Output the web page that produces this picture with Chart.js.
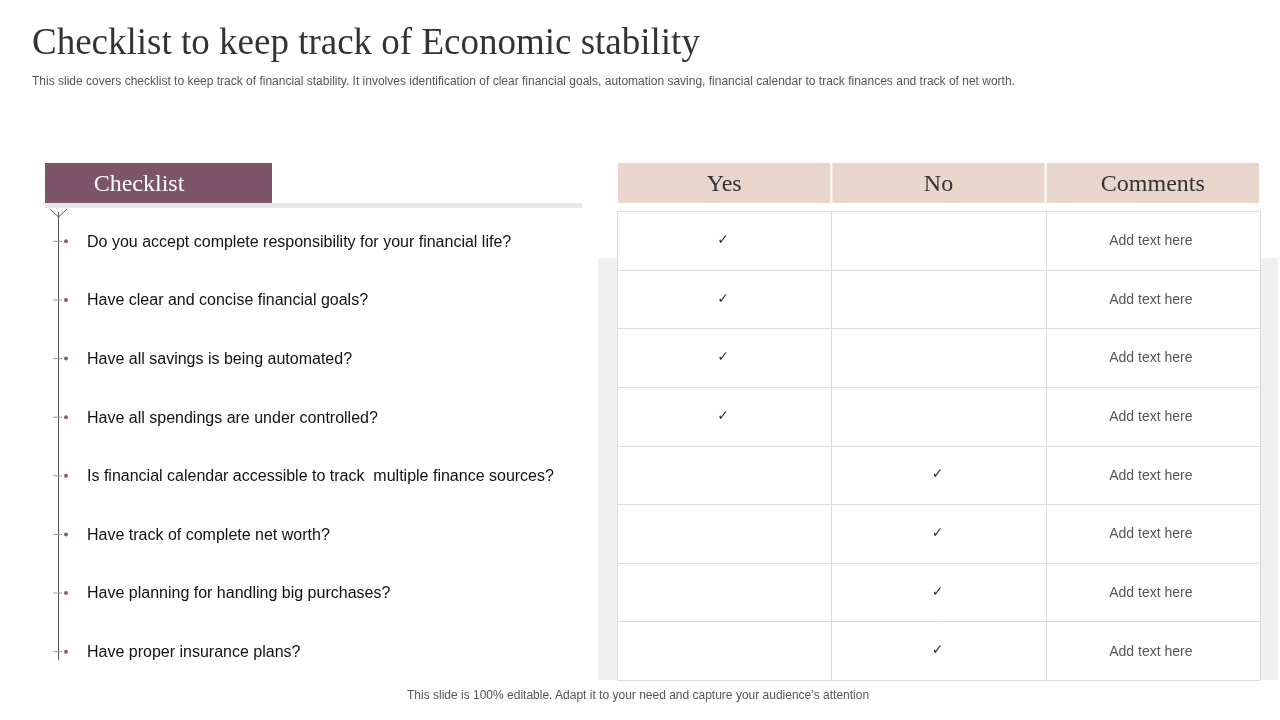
<!DOCTYPE html>
<html><head><meta charset="utf-8">
<script src="https://cdn.jsdelivr.net/npm/chart.js@4.4.6/dist/chart.umd.min.js"></script>
<style>
body{margin:0;background:#fff;width:1280px;height:720px;overflow:hidden;position:relative;font-family:Arial,"Liberation Sans",sans-serif}
#c{position:absolute;left:0;top:0}
.t{position:absolute;white-space:nowrap}
</style></head><body>
<canvas id="c" width="1280" height="720"></canvas>
<div class="t" style="left:32px;top:20px;font:37px 'Liberation Serif',serif;color:#333">Checklist to keep track of Economic stability</div>
<div class="t" style="left:32px;top:74px;font-size:12px;color:#555">This slide covers checklist to keep track of financial stability. It involves identification of clear financial goals, automation saving, financial calendar to track finances and track of net worth.</div>
<div class="t" style="left:407px;top:688px;font-size:12px;color:#555">This slide is 100% editable. Adapt it to your need and capture your audience’s attention</div>
<script>
// checklist data
const questions = [
  'Do you accept complete responsibility for your financial life?',
  'Have clear and concise financial goals?',
  'Have all savings is being automated?',
  'Have all spendings are under controlled?',
  'Is financial calendar accessible to track  multiple finance sources?',
  'Have track of complete net worth?',
  'Have planning for handling big purchases?',
  'Have proper insurance plans?'
];
const columns = ['Yes', 'No', 'Comments'];
const answers = ['Yes','Yes','Yes','Yes','No','No','No','No'];
const comments = questions.map(() => 'Add text here');

const checkPoints = answers.map((a, i) => ({x: columns.indexOf(a) + 0.5, y: i + 0.5}));
const commentPoints = comments.map((c, i) => ({x: 2.5, y: i + 0.5}));

const tablePlugin = {
  id: 'table',
  beforeDatasetsDraw(chart){
    const {ctx, scales:{x, y}} = chart;
    const L = x.getPixelForValue(0), R = x.getPixelForValue(3);
    const T = y.getPixelForValue(0), B = y.getPixelForValue(8);
    ctx.save();
    // grey backdrop
    ctx.fillStyle = '#efefef';
    ctx.fillRect(598, y.getPixelForValue(0.8), 1278 - 598, B - y.getPixelForValue(0.8));
    ctx.fillStyle = '#fff';
    ctx.fillRect(L, T, R - L, B - T);
    ctx.strokeStyle = '#dcdcdc'; ctx.lineWidth = 1;
    for(let i = 0; i <= 8; i++){
      const py = Math.round(y.getPixelForValue(i)) + 0.5;
      ctx.beginPath(); ctx.moveTo(L, py); ctx.lineTo(R, py); ctx.stroke();
    }
    for(let j = 0; j <= 3; j++){
      const px = Math.round(x.getPixelForValue(j)) + 0.5;
      ctx.beginPath(); ctx.moveTo(px, T); ctx.lineTo(px, B); ctx.stroke();
    }
    // column headers
    ctx.font = '24px "Liberation Serif", serif';
    ctx.textAlign = 'center'; ctx.textBaseline = 'middle';
    columns.forEach((c, j) => {
      const a = x.getPixelForValue(j) + 1, b = x.getPixelForValue(j + 1) - 1;
      ctx.fillStyle = '#e8d5cc';
      ctx.fillRect(a, 163, b - a, 40);
      ctx.fillStyle = '#333';
      ctx.fillText(c, (a + b) / 2, 185);
    });
    // left checklist header
    ctx.fillStyle = '#e8e8e8'; ctx.fillRect(45, 203, 537, 5);
    ctx.fillStyle = '#7d5569'; ctx.fillRect(45, 163, 227, 40);
    ctx.fillStyle = '#fff'; ctx.fillText('Checklist', 139, 185);
    // timeline
    ctx.strokeStyle = '#555';
    ctx.beginPath(); ctx.moveTo(58.5, 212); ctx.lineTo(58.5, 660); ctx.stroke();
    ctx.beginPath(); ctx.moveTo(50, 209); ctx.lineTo(58.5, 217); ctx.lineTo(67, 209); ctx.stroke();
    ctx.textAlign = 'left'; ctx.font = '16px Arial, "Liberation Sans", sans-serif';
    questions.forEach((q, i) => {
      const py = y.getPixelForValue(i + 0.5) + 1;
      ctx.strokeStyle = '#999';
      ctx.beginPath(); ctx.moveTo(53, py); ctx.lineTo(62, py); ctx.stroke();
      ctx.fillStyle = '#8a5a70';
      ctx.beginPath(); ctx.arc(66, py, 2, 0, Math.PI * 2); ctx.fill();
      ctx.fillStyle = '#111';
      ctx.fillText(q, 87, py + 1);
    });
    ctx.restore();
  },
  afterDatasetsDraw(chart){
    const {ctx, scales:{x, y}} = chart;
    ctx.save();
    ctx.textAlign = 'center'; ctx.textBaseline = 'middle';
    ctx.font = '14px "DejaVu Sans", sans-serif'; ctx.fillStyle = '#333';
    checkPoints.forEach(p => ctx.fillText('✓', x.getPixelForValue(p.x) - 1, y.getPixelForValue(p.y)));
    ctx.font = '14px Arial, "Liberation Sans", sans-serif'; ctx.fillStyle = '#555';
    commentPoints.forEach((p, i) => ctx.fillText(comments[i], x.getPixelForValue(p.x) - 2, y.getPixelForValue(p.y) + 1));
    ctx.restore();
  }
};

new Chart(document.getElementById('c'), {
  type: 'scatter',
  data: {datasets: [
    {data: checkPoints, pointRadius: 0},
    {data: commentPoints, pointRadius: 0}
  ]},
  options: {
    responsive: false, animation: false,
    layout: {padding: {left: 617, right: 20, top: 211, bottom: 40}},
    scales: {
      x: {display: false, min: 0, max: 3},
      y: {display: false, min: 0, max: 8, reverse: true}
    },
    plugins: {legend: {display: false}, tooltip: {enabled: false}}
  },
  plugins: [tablePlugin]
});
</script>
</body></html>
